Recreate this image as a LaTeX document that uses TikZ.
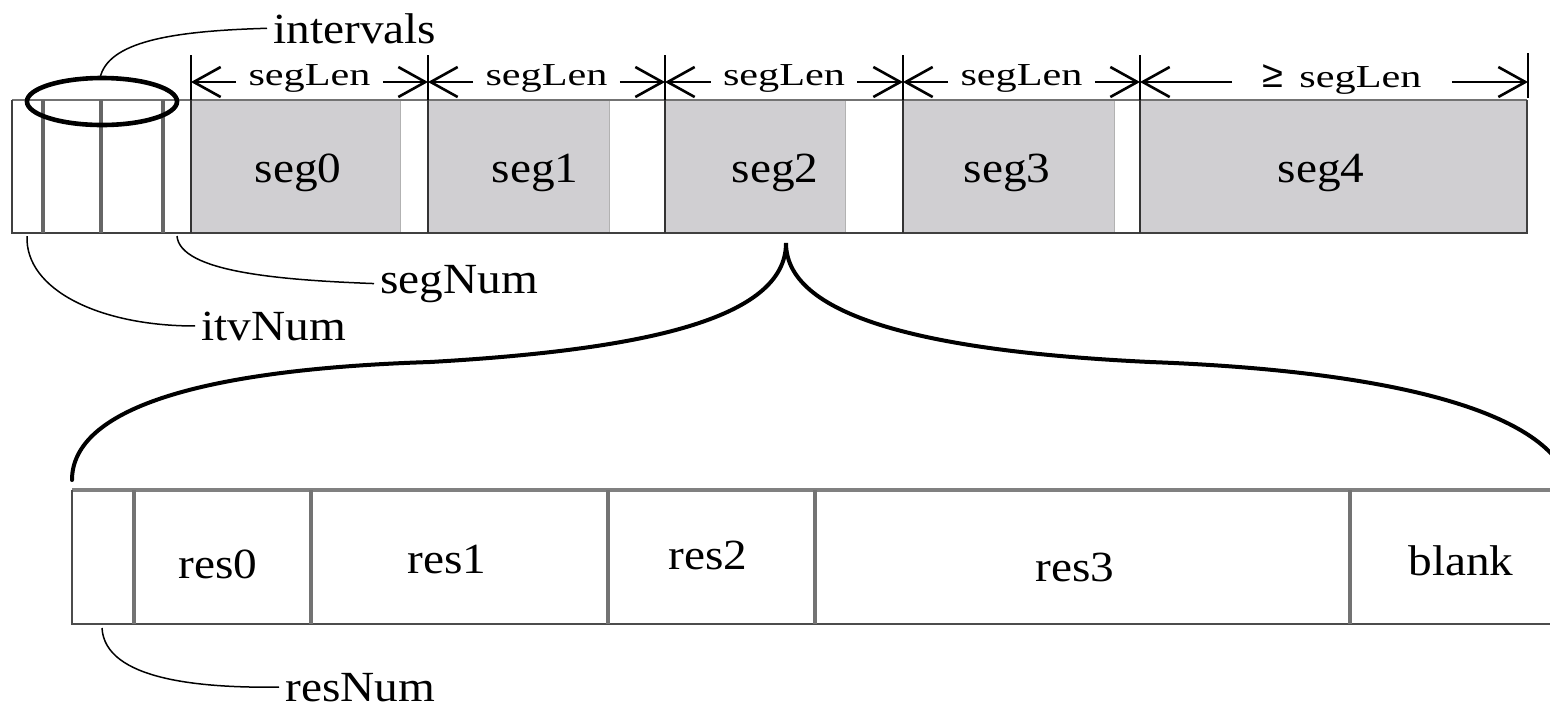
\documentclass[tikz,border=0pt]{standalone}
\usepackage{fontspec}
\usepackage{graphicx}
\setmainfont{Liberation Serif}
\newfontfamily\symfont{Liberation Sans}
\usetikzlibrary{arrows.meta}
\definecolor{segfill}{RGB}{208,207,210}
\newcommand{\wlab}[1]{\scalebox{1.1}[1]{#1}}
\newcommand{\wlen}[1]{\scalebox{1.32}[1]{#1}}

\begin{document}
\begin{tikzpicture}[x=0.5pt, y=-0.5pt,
        lab/.style={font=\fontsize{21.5}{25}\selectfont, inner sep=0pt, anchor=base},
        tag/.style={font=\fontsize{21.5}{25}\selectfont, inner xsep=3pt, inner ysep=0pt, anchor=base west},
        len/.style={font=\fontsize{16}{19}\selectfont, inner ysep=0pt, inner xsep=6pt, anchor=base},
        dim/.style={-{Straight Barb[length=13.5pt, width=15pt]}, line width=1.3pt},
        tick/.style={line width=1.3pt},
        lead/.style={line width=0.75pt},
        itvline/.style={black!60, line width=1.6pt},
        segline/.style={black!80, line width=1.3pt},
        resline/.style={black!55, line width=1.6pt}]
    \useasboundingbox (0, 0) rectangle (1550, 709);
    \clip (0, 0) rectangle (1550, 709);

    \fill[segfill] (191, 100) rectangle (400, 233);
    \fill[segfill] (428, 100) rectangle (609, 233);
    \fill[segfill] (665, 100) rectangle (845, 233);
    \fill[segfill] (903, 100) rectangle (1114, 233);
    \fill[segfill] (1140, 100) rectangle (1527, 233);
    \draw[black!30, line width=0.5pt] (400, 100) -- (400, 233);
    \draw[black!30, line width=0.5pt] (609, 100) -- (609, 233);
    \draw[black!30, line width=0.5pt] (845, 100) -- (845, 233);
    \draw[black!30, line width=0.5pt] (1114, 100) -- (1114, 233);
    \draw[black!55, line width=1.1pt] (12, 100) -- (1527, 100);
    \draw[black!75, line width=1.4pt] (1527, 100) -- (1527, 233) -- (12, 233) -- (12, 100);
    \draw[itvline] (43, 100) -- (43, 233);
    \draw[itvline] (101, 100) -- (101, 233);
    \draw[itvline] (163, 100) -- (163, 233);
    \draw[segline] (191, 100) -- (191, 233);
    \draw[segline] (428, 100) -- (428, 233);
    \draw[segline] (665, 100) -- (665, 233);
    \draw[segline] (903, 100) -- (903, 233);
    \draw[segline] (1140, 100) -- (1140, 233);

    \node[lab] (seg0) at (298, 182) {\wlab{seg0}};
    \node[lab] (seg1) at (535, 182) {\wlab{seg1}};
    \node[lab] (seg2) at (775, 182) {\wlab{seg2}};
    \node[lab] (seg3) at (1007, 182) {\wlab{seg3}};
    \node[lab] (seg4) at (1321, 182) {\wlab{seg4}};

    \coordinate (t0) at (191, 82);
    \coordinate (t1) at (428, 82);
    \coordinate (t2) at (665, 82);
    \coordinate (t3) at (903, 82);
    \coordinate (t4) at (1140, 82);
    \coordinate (t5) at (1528, 82);
    \draw[tick] (191, 55) -- (191, 100);
    \draw[tick] (428, 55) -- (428, 100);
    \draw[tick] (665, 55) -- (665, 100);
    \draw[tick] (903, 55) -- (903, 100);
    \draw[tick] (1140, 55) -- (1140, 100);
    \draw[tick] (1528, 53) -- (1528, 98);
    \node[len] (len0) at (309.5, 85) {\wlen{segLen}};
    \node[len] (len1) at (546.5, 85) {\wlen{segLen}};
    \node[len] (len2) at (784, 85) {\wlen{segLen}};
    \node[len] (len3) at (1021.5, 85) {\wlen{segLen}};
    \node[len, inner xsep=15pt] (len4) at (1342, 87)
        {{\symfont\fontsize{19}{20}\selectfont ≥}\hspace{0.5em}\wlen{segLen}};
    \draw[dim] (len0.west |- t0) -- (t0);
    \draw[dim] (len0.east |- t1) -- (t1);
    \draw[dim] (len1.west |- t1) -- (t1);
    \draw[dim] (len1.east |- t2) -- (t2);
    \draw[dim] (len2.west |- t2) -- (t2);
    \draw[dim] (len2.east |- t3) -- (t3);
    \draw[dim] (len3.west |- t3) -- (t3);
    \draw[dim] (len3.east |- t4) -- (t4);
    \draw[dim] (len4.west |- t4) -- (t4);
    \draw[dim] (len4.east |- t5) -- (t5);

    \coordinate (ring) at (102, 101.5);
    \coordinate (ringtop) at (100, 78);
    \draw[line width=2.3pt] (ring) ellipse [x radius=37.5pt, y radius=11.75pt];
    \node[tag] (intervals) at (267, 43) {\wlab{intervals}};
    \draw[lead] (ringtop) .. controls (108, 42) and (170, 31) .. (intervals.west);

    \coordinate (itvcell) at (27, 236);
    \coordinate (segcell) at (177, 236);
    \node[tag] (segNum) at (374, 293) {\wlab{segNum}};
    \node[tag] (itvNum) at (195, 340) {\wlab{itvNum}};
    \draw[lead] (segcell) .. controls (180, 272) and (280, 280) .. (segNum.west);
    \draw[lead] (itvcell) .. controls (25, 290) and (100, 326) .. (itvNum.west);

    \coordinate (tip) at (786, 243);
    \draw[line width=2pt, line cap=round] (72, 480) .. controls (72, 415) and (180, 370) .. (430, 362)
        .. controls (640, 350) and (786, 320) .. (tip)
        .. controls (786, 320) and (940, 352) .. (1150, 362)
        .. controls (1420, 372) and (1560, 420) .. (1570, 490);

    \draw[black!50, line width=2.2pt] (72, 490) -- (1580, 490);
    \draw[black!70, line width=1.4pt] (72, 490) -- (72, 624) -- (1580, 624);
    \draw[resline] (134, 490) -- (134, 624);
    \draw[resline] (311, 490) -- (311, 624);
    \draw[resline] (608, 490) -- (608, 624);
    \draw[resline] (815, 490) -- (815, 624);
    \draw[resline] (1350, 490) -- (1350, 624);

    \node[lab] (res0) at (218, 578) {\wlab{res0}};
    \node[lab] (res1) at (447, 573) {\wlab{res1}};
    \node[lab] (res2) at (708, 569) {\wlab{res2}};
    \node[lab] (res3) at (1075, 581) {\wlab{res3}};
    \node[lab] (blank) at (1461, 575) {\wlab{blank}};

    \coordinate (rescell) at (102, 628);
    \node[tag] (resNum) at (279, 701) {\wlab{resNum}};
    \draw[lead] (rescell) .. controls (105, 680) and (200, 688) .. (resNum.west);
\end{tikzpicture}
\end{document}
